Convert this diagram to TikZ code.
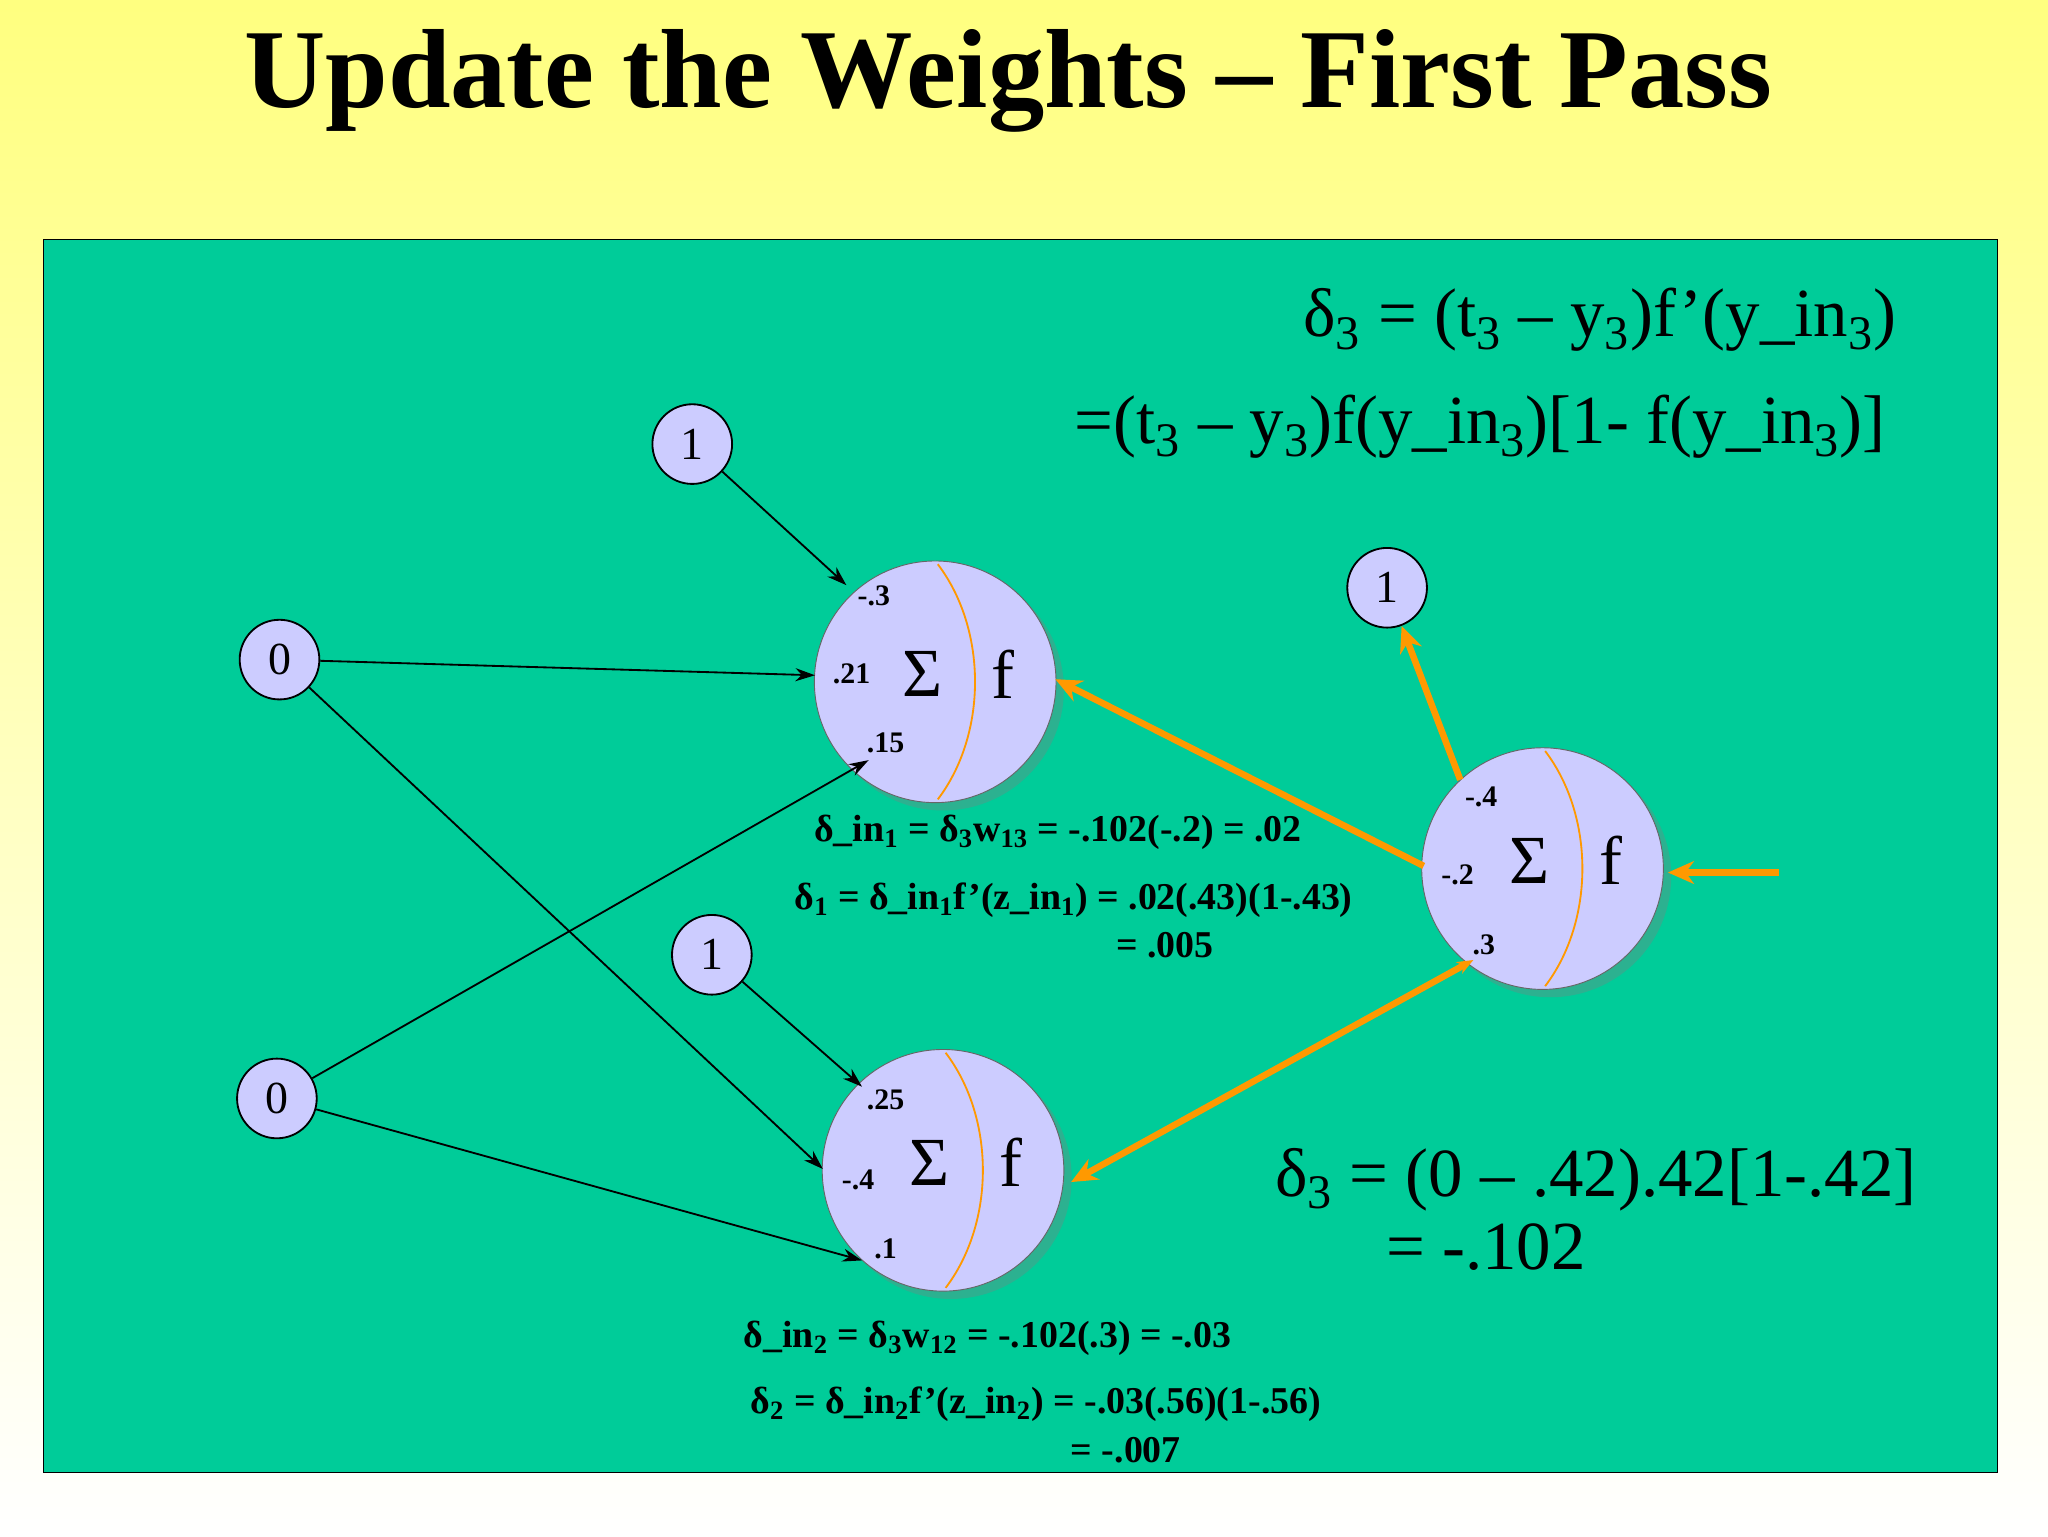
\documentclass[tikz,border=0pt]{standalone}
\usepackage{fontspec}
\setmainfont{Liberation Serif}
\usetikzlibrary{arrows.meta,shadows,calc}
\definecolor{bgreen}{HTML}{00CC99}
\definecolor{nlav}{HTML}{CCCCFF}
\definecolor{orng}{HTML}{FF9900}
\begin{document}
\begin{tikzpicture}[x=0.2mm,y=-0.2mm,
 big/.style={circle,draw=black!60,fill=nlav,minimum size=37mm,inner sep=0pt,drop shadow={shadow xshift=1.2mm,shadow yshift=-1.2mm,opacity=0.35}},
 small/.style={circle,draw=black,fill=nlav,thick,minimum size=12.2mm,inner sep=0pt,font=\fontsize{20}{22}\selectfont},
 blk/.style={-{Stealth[length=3mm,width=2mm]},thick},
 org/.style={orng,line width=1mm,-{Stealth[length=4mm,width=3.5mm]}},
 wl/.style={font=\bfseries\fontsize{13}{14}\selectfont},
 dl/.style={font=\bfseries\fontsize{16.5}{18}\selectfont},
 fl/.style={font=\fontsize{30}{32}\selectfont}]
\useasboundingbox (0,0) rectangle (1568,1176);
\shade[top color=yellow!50,bottom color=white] (0,0) rectangle (1568,1176);
\draw[fill=bgreen] (33,183) rectangle (1529,1127);
\node[font=\bfseries\fontsize{49}{52}\selectfont] (title) at (772,62) {Update the Weights – First Pass};
% big nodes
\foreach \n/\x/\y in {h1/716/522,h2/722/896,o/1181/665}{
 \node[big] (\n) at (\x,\y) {};
 \draw[orng,thick] ($(\n)+(2,-90)$) .. controls ($(\n)+(40,-40)$) and ($(\n)+(40,40)$) .. ($(\n)+(2,90)$);
 \node[font=\fontsize{30}{32}\selectfont] at ($(\n)+(-10,-6)$) {Σ};
 \node[font=\fontsize{30}{32}\selectfont] at ($(\n)+(52,-6)$) {f};
}
\node[small] (b1) at (530,340) {1};
\node[small] (x1) at (214,505) {0};
\node[small] (x2) at (212,841) {0};
\node[small] (b2) at (545,731) {1};
\node[small] (b3) at (1062,450) {1};
\coordinate (in) at (1362,668);
% weights
\node[wl] at (669,456) {-.3};
\node[wl] at (652,516) {.21};
\node[wl] at (678,569) {.15};
\node[wl] at (678,842) {.25};
\node[wl] at (657,903) {-.4};
\node[wl] at (678,956) {.1};
\node[wl] at (1134,610) {-.4};
\node[wl] at (1116,670) {-.2};
\node[wl] at (1136,723) {.3};
% black arrows
\draw[blk] (x1) -- (624,517);
\draw[blk] (x1) -- (630,895);
\draw[blk] (x2) -- (665,582);
\draw[blk] (x2) -- (660,965);
\draw[blk] (b1) -- (648,448);
\draw[blk] (b2) -- (660,832);
% orange
\draw[org] (1090,663) -- (808,520);
\draw[org,{Stealth[length=4mm,width=3.5mm]}-{Stealth[length=2.5mm,width=2mm]}] (820,905) -- (1128,735);
\draw[org] (1118,597) -- (b3);
\draw[org] (in) -- (1277,668);
% formulas
\node[fl,anchor=east] at (1458,245) {δ\textsubscript{3} = (t\textsubscript{3} – y\textsubscript{3})f’(y\_in\textsubscript{3})};
\node[fl,anchor=east] at (1450,327) {=(t\textsubscript{3} – y\textsubscript{3})f(y\_in\textsubscript{3})[1- f(y\_in\textsubscript{3})]};
\node[fl,anchor=west] at (970,903) {δ\textsubscript{3} = (0 – .42).42[1-.42]};
\node[fl,anchor=west] at (1055,955) {= -.102};
\node[dl] at (810,637) {δ\_in\textsubscript{1} = δ\textsubscript{3}w\textsubscript{13} = -.102(-.2) = .02};
\node[dl] at (822,689) {δ\textsubscript{1} = δ\_in\textsubscript{1}f’(z\_in\textsubscript{1}) = .02(.43)(1-.43)};
\node[dl] at (892,724) {= .005};
\node[dl] at (756,1025) {δ\_in\textsubscript{2} = δ\textsubscript{3}w\textsubscript{12} = -.102(.3) = -.03};
\node[dl] at (793,1075) {δ\textsubscript{2} = δ\_in\textsubscript{2}f’(z\_in\textsubscript{2}) = -.03(.56)(1-.56)};
\node[dl] at (862,1110) {= -.007};
\end{tikzpicture}
\end{document}
